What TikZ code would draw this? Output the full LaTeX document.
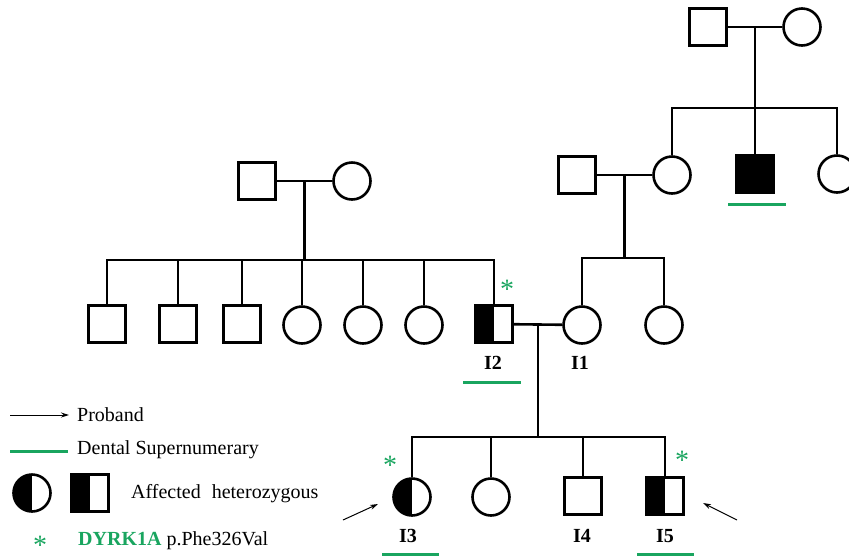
\documentclass[tikz,border=0pt]{standalone}
\usepackage{fontspec}
\setmainfont{Liberation Serif}
\usetikzlibrary{arrows.meta,calc}
\definecolor{mutgreen}{RGB}{25,165,95}
\tikzset{
  ped/.style={line width=2.6pt},
  male/.style={draw, line width=2.6pt, rectangle, minimum size=37pt, inner sep=0pt, fill=white},
  female/.style={draw, line width=2.6pt, circle, minimum size=37pt, inner sep=0pt, fill=white},
  affected/.style={fill=black},
  carrier/.style={path picture={\fill[black] (path picture bounding box.south west) rectangle (path picture bounding box.north);}},
  idlabel/.style={font=\bfseries\fontsize{20}{24}\selectfont, inner sep=0pt},
  legendtext/.style={font=\fontsize{20}{24}\selectfont, inner sep=0pt, anchor=west},
  dentline/.style={draw=mutgreen, line width=3pt},
  variant/.style={text=mutgreen, font=\fontsize{28}{30}\selectfont, inner sep=0pt, text depth=0pt, anchor=north},
  proband/.style={-{Stealth[length=8pt,width=5pt]}, line width=1pt},
}
\begin{document}
\begin{tikzpicture}[x=1pt,y=-1pt]
\useasboundingbox (0,0) rectangle (849,558);

% ---- maternal grandparents and their children
\node[male]   (mgf) at (708,27) {};
\node[female] (mgm) at (802,27) {};
\draw[ped] (mgf) -- (mgm);
\coordinate (mgU) at ($(mgf)!0.5!(mgm)$);
\coordinate (mgS) at (755,108);
\node[female] (mm)  at (672,175) {};
\node[male, affected] (unc) at (755,174) {};
\node[female] (aunt) at (837,174) {};
\draw[ped] (mgU) -- (mgS);
\draw[ped] (mm.north) |- (mgS);
\draw[ped] (aunt.north) |- (mgS);
\draw[ped] (unc.north) -- (mgS);
\draw[dentline] (728,204) -- (786,204);

% ---- I1's parents and their daughters
\node[male] (mf) at (577,175) {};
\draw[ped] (mf) -- (mm);
\coordinate (mU) at ($(mf)!0.5!(mm)$);
\coordinate (mS) at (mU |- 0,258);
\node[female] (I1)  at (582,325) {};
\node[female] (sis) at (664,325) {};
\draw[ped] (mU) -- (mS);
\draw[ped] (I1.north) |- (mS);
\draw[ped] (sis.north) |- (mS);

% ---- paternal grandparents and their seven children
\node[male]   (pgf) at (257,181) {};
\node[female] (pgm) at (352,181) {};
\draw[ped] (pgf) -- (pgm);
\coordinate (pU) at ($(pgf)!0.5!(pgm)$);
\coordinate (pS) at (pU |- 0,260);
\node[male]   (s1) at (107,324) {};
\node[male]   (s2) at (178,324) {};
\node[male]   (s3) at (242,324) {};
\node[female] (s4) at (302,325) {};
\node[female] (s5) at (363,325) {};
\node[female] (s6) at (424,325) {};
\node[male, carrier] (I2) at (494,324) {};
\draw[ped] (pU) -- (pS);
\foreach \k in {s1,s2,s3,s4,s5,s6,I2} \draw[ped] (\k.north) |- (pS);

% ---- the couple I2 x I1 and their children
\draw[ped] (I2) -- (I1);
\coordinate (cU) at ($(I2)!0.5!(I1)$);
\coordinate (cS) at (cU |- 0,437);
\node[female, carrier] (I3) at (412,497) {};
\node[female] (d2) at (491,497) {};
\node[male]   (I4) at (583,496) {};
\node[male, carrier] (I5) at (665,496) {};
\draw[ped] (cU) -- (cS);
\foreach \k in {I3,d2,I4,I5} \draw[ped] (\k.north) |- (cS);

% ---- identifiers
\node[idlabel] (lI2) at (493,363) {I2};
\node[idlabel] (lI1) at (580,363) {I1};
\node[idlabel] (lI3) at (408,536) {I3};
\node[idlabel] (lI4) at (582,536) {I4};
\node[idlabel] (lI5) at (665,536) {I5};

% ---- supernumerary teeth
\draw[dentline] (463,382) -- (521,382);
\draw[dentline] (382,554) -- (439,554);
\draw[dentline] (637,554) -- (694,554);

% ---- variant carriers
\node[variant] (vI2) at (507,280) {*};
\node[variant] (vI3) at (390,456) {*};
\node[variant] (vI5) at (682,451) {*};

% ---- probands
\coordinate (pt3) at (343,520);
\coordinate (ph3) at (378,504);
\coordinate (pt5) at (737,520);
\coordinate (ph5) at (703,503);
\draw[proband] (pt3) -- (ph3);
\draw[proband] (pt5) -- (ph5);

% ---- legend
\coordinate (lgA0) at (10,415);
\coordinate (lgA1) at (69,415);
\draw[proband] (lgA0) -- (lgA1);
\node[legendtext] (lgP) at (77,415) {Proband};
\draw[dentline] (10,451) -- (68,451);
\node[legendtext] (lgD) at (77,450) {Dental Supernumerary};
\node[female, carrier] (lgF) at (32,493) {};
\node[male, carrier]   (lgM) at (90,493) {};
\node[legendtext] (lgH) at (131,494) {Affected\hspace{0.3em} heterozygous};
\node[variant] (lgV) at (40,536) {*};
\node[legendtext] (lgG) at (78,541) {\textcolor{mutgreen}{\bfseries DYRK1A} p.Phe326Val};
\end{tikzpicture}
\end{document}
